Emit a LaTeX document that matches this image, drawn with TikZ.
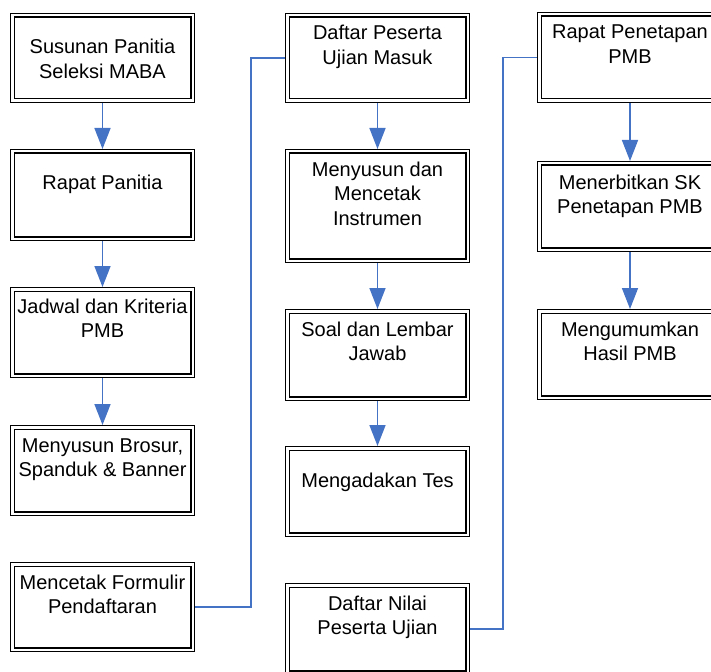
\documentclass[tikz,border=0pt]{standalone}
\usepackage{fontspec}
\setmainfont{Liberation Sans}
\usetikzlibrary{arrows.meta}
\definecolor{flowblue}{HTML}{4472C4}
\begin{document}
\begin{tikzpicture}[x=1pt,y=-1pt,
  box/.style={draw=black, double=white, double distance=2.2pt, line width=1.3pt,
    outer sep=2.4pt, inner sep=0pt, rectangle},
  txt/.style={anchor=base, align=center, inner sep=0pt,
    font=\fontsize{20}{24.5}\selectfont},
  flow/.style={draw=flowblue, line width=1.6pt,
    -{Triangle[length=21pt,width=16pt]}},
  conn/.style={draw=flowblue, line width=1.6pt}]
\useasboundingbox (0,0) rectangle (711,671);
\clip (0,0) rectangle (711,671);
% column 1
\node[box, minimum width=180.2pt, minimum height=85.2pt] (b11) at (102.5,58) {};
\node[box, minimum width=180.2pt, minimum height=87.2pt] (b12) at (102.5,195) {};
\node[box, minimum width=180.2pt, minimum height=86.2pt] (b13) at (102.5,332.5) {};
\node[box, minimum width=180.2pt, minimum height=86.2pt] (b14) at (102.5,470.5) {};
\node[box, minimum width=180.2pt, minimum height=85.2pt] (b15) at (102.5,607) {};
% column 2
\node[box, minimum width=180.2pt, minimum height=85.2pt] (b21) at (377.5,58) {};
\node[box, minimum width=180.2pt, minimum height=109.2pt] (b22) at (377.5,206) {};
\node[box, minimum width=180.2pt, minimum height=87.2pt] (b23) at (377.5,355) {};
\node[box, minimum width=180.2pt, minimum height=86.2pt] (b24) at (377.5,491.5) {};
\node[box, minimum width=180.2pt, minimum height=87.2pt] (b25) at (377.5,629) {};
% column 3
\node[box, minimum width=181.2pt, minimum height=86.2pt] (b31) at (630,57.5) {};
\node[box, minimum width=181.2pt, minimum height=86.2pt] (b32) at (630,206.5) {};
\node[box, minimum width=181.2pt, minimum height=86.2pt] (b33) at (630,354.5) {};
% texts (base anchor = baseline of the last line)
\node[txt] (t11) at ([yshift=-65.5pt]b11.north) {Susunan Panitia\\Seleksi MABA};
\node[txt] (t12) at ([yshift=-40pt]b12.north) {Rapat Panitia};
\node[txt] (t13) at ([yshift=-50.5pt]b13.north) {Jadwal dan Kriteria\\PMB};
\node[txt] (t14) at ([yshift=-51.5pt]b14.north) {Menyusun Brosur,\\Spanduk \& Banner};
\node[txt] (t15) at ([yshift=-51.5pt]b15.north) {Mencetak Formulir\\Pendaftaran};
\node[txt] (t21) at ([yshift=-51.5pt]b21.north) {Daftar Peserta\\Ujian Masuk};
\node[txt] (t22) at ([yshift=-76pt]b22.north) {Menyusun dan\\Mencetak\\Instrumen};
\node[txt] (t23) at ([yshift=-51.5pt]b23.north) {Soal dan Lembar\\Jawab};
\node[txt] (t24) at ([yshift=-41pt]b24.north) {Mengadakan Tes};
\node[txt] (t25) at ([yshift=-51.5pt]b25.north) {Daftar Nilai\\Peserta Ujian};
\node[txt] (t31) at ([yshift=-51.5pt]b31.north) {Rapat Penetapan\\PMB};
\node[txt] (t32) at ([yshift=-52.5pt]b32.north) {Menerbitkan SK\\Penetapan PMB};
\node[txt] (t33) at ([yshift=-51.5pt]b33.north) {Mengumumkan\\Hasil PMB};
% arrows
\draw[flow] (b11.south) -- (b12.north);
\draw[flow] (b12.south) -- (b13.north);
\draw[flow] (b13.south) -- (b14.north);
\draw[flow] (b21.south) -- (b22.north);
\draw[flow] (b22.south) -- (b23.north);
\draw[flow] (b23.south) -- (b24.north);
\draw[flow] (b31.south) -- (b32.north);
\draw[flow] (b32.south) -- (b33.north);
% connectors
\draw[conn] (b15.east) -- ++(56,0) |- (b21.west);
\draw[conn] (b25.east) -- ++(33,0) |- (b31.west);
\end{tikzpicture}
\end{document}
